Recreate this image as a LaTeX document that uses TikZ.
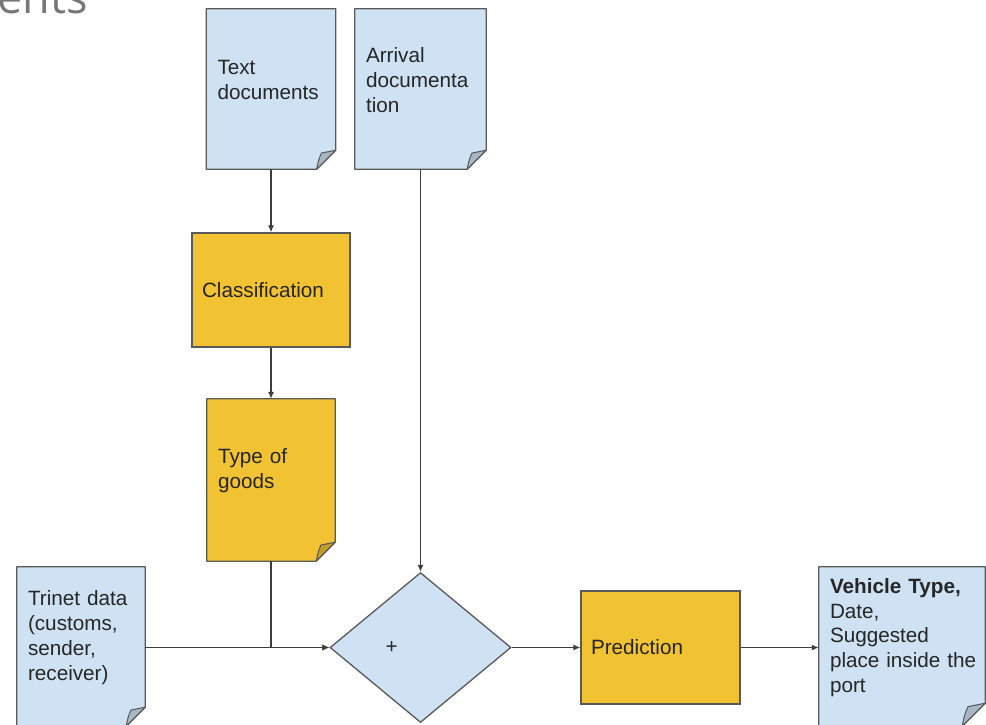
\documentclass[tikz,border=0pt]{standalone}
\usepackage{fontspec}
\setmainfont{Liberation Sans}
\newfontfamily\slidefont{Open Sans}
\usetikzlibrary{shapes.geometric,arrows.meta,backgrounds}

\definecolor{docblue}{HTML}{CFE2F3}
\definecolor{flapblue}{HTML}{A7B7C6}
\definecolor{procyellow}{HTML}{F1C232}
\definecolor{flapyellow}{HTML}{C29B2B}
\definecolor{edgegray}{HTML}{595959}
\definecolor{titlegray}{HTML}{777777}

\tikzset{
    every node/.style={font=\fontsize{20.7}{24.8}\selectfont, text=black!85},
    doc/.style={rectangle, inner xsep=11pt, inner ysep=0pt, align=left,
        execute at end node={\par\vspace*{18pt}}},
    proc/.style={rectangle, draw=edgegray, fill=procyellow, line width=1.3pt,
        inner xsep=10pt, align=left},
    merge/.style={diamond, draw=edgegray, fill=docblue, line width=1.3pt,
        text width=70pt, align=left, minimum width=181pt, minimum height=150pt},
    flow/.style={draw=edgegray!70!black, line width=1.2pt,
        -{Latex[length=7pt,width=6pt]}}
}

%% page with folded corner behind a doc node
\newcommand{\docpage}[4]{%
    \filldraw[fill=#2, draw=edgegray, line width=1.3pt, line join=round]
        (#1.north west) -- (#1.north east) -- ([yshift=#4*1pt]#1.south east)
        -- ([xshift=-#4*1pt]#1.south east) -- (#1.south west) -- cycle;
    \filldraw[fill=#3, draw=edgegray, line width=1pt, line join=round]
        ([xshift=-#4*1pt]#1.south east)
        .. controls ([xshift=-0.9*#4*1pt,yshift=0.5*#4*1pt]#1.south east)
        .. ([xshift=-0.75*#4*1pt,yshift=0.85*#4*1pt]#1.south east)
        -- ([yshift=#4*1pt]#1.south east) -- cycle;}

\begin{document}
\begin{tikzpicture}[x=1pt,y=-1pt]
    \useasboundingbox (0,0) rectangle (986,724);
    %% slide title (cut off)
    \node[font=\slidefont\fontsize{45}{50}\selectfont, text=titlegray,
        anchor=base east, inner sep=0pt] (title) at (88,13) {ents};
    %% inputs
    \node[doc, text width=107pt, minimum height=160pt] (textdoc) at (271,89)
        {Text\\documents};
    \node[doc, text width=109pt, minimum height=160pt] (arrdoc) at (420.5,89)
        {Arrival\\documenta\\tion};
    %% classification
    \node[proc, text width=138pt, minimum height=114pt] (classif) at (271,290)
        {Classification};
    \node[doc, text width=106pt, minimum height=162pt] (goodsdoc) at (271,480)
        {Type of\\goods};
    \node[doc, text width=106pt, minimum height=159pt] (trinetdoc) at (81,646.5)
        {Trinet data\\(customs,\\sender,\\receiver)};
    %% merge and prediction
    \node[merge] (plus) at (420.5,647.5) {+};
    \node[proc, text width=139pt, minimum height=113pt] (predict) at (660.5,647.5)
        {Prediction};
    \node[doc, text width=144pt, minimum height=159pt] (outdoc) at (902,646.5)
        {\textbf{Vehicle Type,}\\Date,\\Suggested\\\mbox{place inside the}\\port};
    %% pages
    \begin{scope}[on background layer]
        \foreach \n/\c/\f/\s in {textdoc/docblue/flapblue/19,
                arrdoc/docblue/flapblue/19, goodsdoc/procyellow/flapyellow/19,
                trinetdoc/docblue/flapblue/19, outdoc/docblue/flapblue/23}
            \docpage{\n}{\c}{\f}{\s};
    \end{scope}
    %% connectors
    \draw[flow] (textdoc) -- (classif);
    \draw[flow] (classif) -- (goodsdoc);
    \draw[flow] (arrdoc) -- (plus);
    \draw[flow] (trinetdoc.east |- plus.west) -- (plus.west);
    \draw[flow] (goodsdoc.south) |- (plus.west);
    \draw[flow] (plus) -- (predict);
    \draw[flow] (predict.east) -- (predict.east -| outdoc.west);
\end{tikzpicture}
\end{document}
